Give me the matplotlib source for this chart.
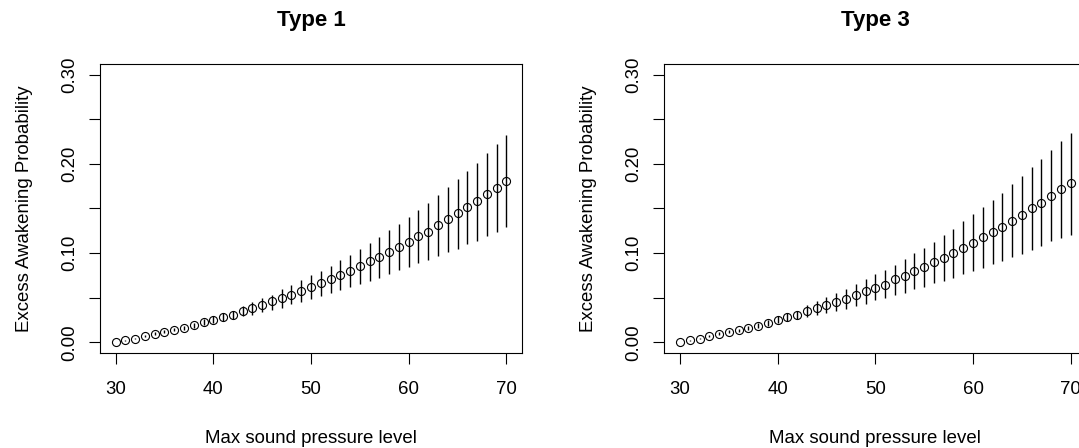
import matplotlib
matplotlib.use("Agg")
import matplotlib.pyplot as plt
from matplotlib.ticker import FixedLocator, FuncFormatter

plt.rcParams['font.family'] = ['Liberation Sans', 'DejaVu Sans']

# Max sound pressure level (dB)
levels = list(range(30, 71))

# Type 1: estimated excess awakening probability with interval bounds
type1_mean = [0.0, 0.0022, 0.0041, 0.0071, 0.0097, 0.012, 0.0142, 0.0164, 0.019, 0.0228,
              0.0254, 0.0284, 0.0306, 0.0347, 0.038, 0.0418, 0.0459, 0.05, 0.0526, 0.0571,
              0.0623, 0.066, 0.0705, 0.0757, 0.0802, 0.085, 0.0906, 0.0959, 0.1015, 0.1067,
              0.1123, 0.1186, 0.1238, 0.131, 0.1377, 0.1444, 0.1511, 0.1582, 0.166, 0.1731,
              0.181]
type1_lower = [0.0, 0.0019, 0.0035, 0.0061, 0.0084, 0.0103, 0.0122, 0.014, 0.0162, 0.0196,
               0.0218, 0.0244, 0.0261, 0.0291, 0.031, 0.0336, 0.0366, 0.0388, 0.0429, 0.0451,
               0.0485, 0.0522, 0.0552, 0.0582, 0.0619, 0.0653, 0.0683, 0.0724, 0.0761, 0.0806,
               0.0839, 0.0888, 0.0925, 0.0962, 0.1007, 0.1044, 0.110, 0.1138, 0.1194, 0.1235,
               0.1287]
type1_upper = [0.0, 0.0025, 0.0047, 0.0081, 0.011, 0.0137, 0.0162, 0.0188, 0.0218, 0.026,
               0.029, 0.0324, 0.0351, 0.0403, 0.0448, 0.0496, 0.0533, 0.06, 0.0642, 0.0698,
               0.075, 0.0802, 0.0858, 0.0921, 0.0977, 0.1044, 0.1112, 0.1179, 0.1261, 0.1328,
               0.1406, 0.1488, 0.1567, 0.1652, 0.1746, 0.1828, 0.1921, 0.2014, 0.2122, 0.222,
               0.2324]

# Type 3
type3_mean = [0.0, 0.0022, 0.0041, 0.0071, 0.0097, 0.012, 0.0134, 0.0164, 0.0187, 0.0216,
              0.0254, 0.0284, 0.031, 0.0351, 0.0384, 0.0418, 0.0448, 0.0489, 0.0526, 0.0571,
              0.0608, 0.0645, 0.0705, 0.0746, 0.0798, 0.0839, 0.0895, 0.0944, 0.1, 0.1052,
              0.1112, 0.1175, 0.1231, 0.1294, 0.1365, 0.1425, 0.15, 0.1567, 0.1637, 0.1716,
              0.1783]
type3_lower = [0.0, 0.0019, 0.0035, 0.0061, 0.0084, 0.0103, 0.0114, 0.014, 0.0159, 0.0184,
               0.0218, 0.0244, 0.0265, 0.0283, 0.0306, 0.0328, 0.0347, 0.0373, 0.0403, 0.0433,
               0.047, 0.0496, 0.053, 0.0552, 0.0593, 0.0619, 0.066, 0.069, 0.0724, 0.0765,
               0.0794, 0.0832, 0.0877, 0.0914, 0.0955, 0.0992, 0.1037, 0.1074, 0.113, 0.1167,
               0.1205]
type3_upper = [0.0, 0.0025, 0.0047, 0.0081, 0.011, 0.0137, 0.0154, 0.0188, 0.0215, 0.0248,
               0.029, 0.0324, 0.0355, 0.0421, 0.0459, 0.0503, 0.0552, 0.06, 0.0653, 0.0709,
               0.0765, 0.0813, 0.0869, 0.0936, 0.1, 0.1056, 0.1123, 0.1205, 0.1272, 0.1354,
               0.144, 0.1514, 0.1596, 0.1679, 0.1772, 0.1865, 0.1962, 0.2059, 0.2152, 0.2257,
               0.235]

titles = ["Type 1", "Type 3"]
x_ticks = [30, 40, 50, 60, 70]
y_ticks = [0.0, 0.05, 0.10, 0.15, 0.20, 0.25, 0.30]
y_labelled = [0.0, 0.10, 0.20, 0.30]

fig = plt.figure(figsize=(10.79, 4.48), dpi=100)
positions = [[0.0927, 0.2121, 0.3911, 0.6451],
             [0.6157, 0.2121, 0.3911, 0.6451]]
series = [(type1_mean, type1_lower, type1_upper),
          (type3_mean, type3_lower, type3_upper)]

for pos, title, (mean, lo, hi) in zip(positions, titles, series):
    ax = fig.add_axes(pos)
    ax.vlines(levels, lo, hi, colors='black', linewidth=1.0)
    ax.plot(levels, mean, 'o', mfc='none', mec='black', ms=5.8, mew=0.8)
    ax.set_xlim(28.4, 71.6)
    ax.set_ylim(-0.012, 0.312)
    ax.xaxis.set_major_locator(FixedLocator(x_ticks))
    ax.yaxis.set_major_locator(FixedLocator(y_ticks))
    ax.yaxis.set_major_formatter(FuncFormatter(
        lambda v, p: f"{v:.2f}" if any(abs(v - t) < 1e-9 for t in y_labelled) else ""))
    ax.tick_params(direction='out', length=8, width=0.8, labelsize=13.4, color='black')
    ax.tick_params(axis='x', pad=12)
    ax.tick_params(axis='y', pad=8)
    for lab in ax.get_yticklabels():
        lab.set_rotation(90)
        lab.set_va('center')
    for s in ax.spines.values():
        s.set_linewidth(0.8)
        s.set_color('black')
    ax.set_title(title, fontsize=16, fontweight='bold', pad=27)
    ax.set_xlabel("Max sound pressure level", fontsize=13.4, labelpad=23)
    ax.set_ylabel("Excess Awakening Probability", fontsize=13.4, labelpad=20)

fig.savefig("out.png", dpi=100)
